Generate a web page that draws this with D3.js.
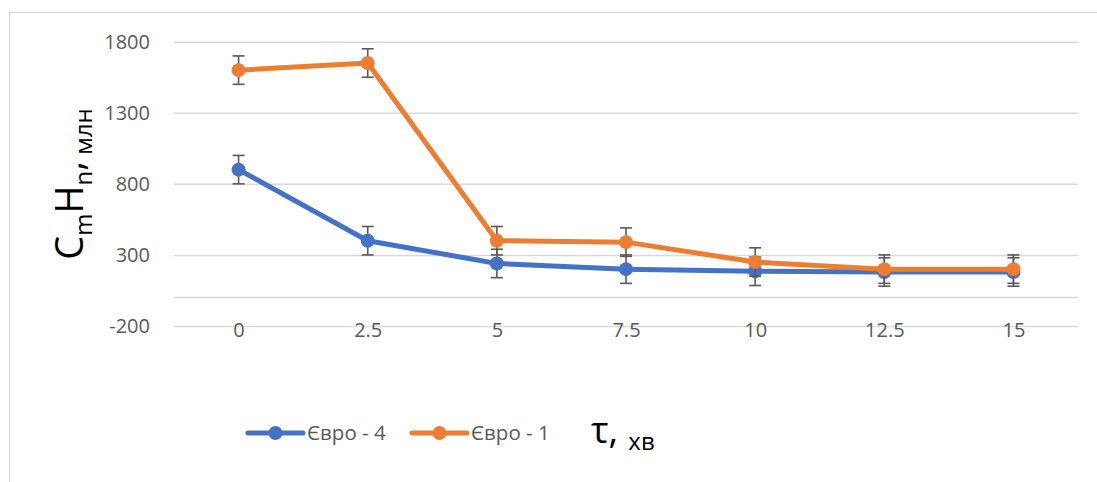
<!DOCTYPE html>
<html>
<head>
<meta charset="utf-8">
<script src="https://cdn.jsdelivr.net/npm/d3@7"></script>
<style>
  html, body { margin: 0; padding: 0; background: #fff; }
  svg { display: block; }
  text { font-family: "Open Sans", "Liberation Sans", sans-serif; }
</style>
</head>
<body>
<svg id="chart" width="1097" height="482"></svg>
<script>
// Time points, min
const times = ["0", "2.5", "5", "7.5", "10", "12.5", "15"];
// Hydrocarbon concentration (CmHn), million⁻¹
const euro4 = [900, 400, 240, 200, 185, 180, 180];
const euro1 = [1600, 1650, 400, 390, 250, 200, 200];
// Error bar half-widths
const euro4Err = [100, 100, 100, 100, 100, 100, 100];
const euro1Err = [100, 100, 100, 100, 100, 100, 100];
// Value axis ticks
const yTicks = [-200, 300, 800, 1300, 1800];

const seriesList = [
  { name: "Євро - 4", values: euro4, errors: euro4Err, color: "#4472C4" },
  { name: "Євро - 1", values: euro1, errors: euro1Err, color: "#ED7D31" }
];

const svg = d3.select("#chart");
const W = 1097, H = 482;

// Chart frame
svg.append("rect")
  .attr("x", 9.5).attr("y", 12.5)
  .attr("width", W + 10).attr("height", H + 10)
  .attr("fill", "none").attr("stroke", "#d9d9d9").attr("stroke-width", 1.2);

const plot = { left: 174, right: 1078, top: 41.7, bottom: 326 };

const x = d3.scalePoint()
  .domain(times)
  .range([plot.left, plot.right])
  .padding(0.5);

const y = d3.scaleLinear()
  .domain([-200, 1800])
  .range([plot.bottom, plot.top]);

// Horizontal gridlines
svg.append("g")
  .attr("transform", `translate(${plot.left},0)`)
  .call(d3.axisLeft(y).tickValues(yTicks).tickSize(-(plot.right - plot.left)).tickFormat(""))
  .call(g => g.select(".domain").remove())
  .call(g => g.selectAll("line").attr("stroke", "#d9d9d9").attr("stroke-width", 1.5));

// Category axis line sits at zero
svg.append("line")
  .attr("x1", plot.left).attr("x2", plot.right)
  .attr("y1", y(0)).attr("y2", y(0))
  .attr("stroke", "#d9d9d9").attr("stroke-width", 1.5);

// Value tick labels
svg.append("g")
  .attr("transform", `translate(${plot.left},0)`)
  .call(d3.axisLeft(y).tickValues(yTicks).tickSize(0).tickPadding(24)
    .tickFormat(d => String(d)))
  .call(g => g.select(".domain").remove())
  .call(g => g.selectAll("text")
    .attr("fill", "#595959")
    .style("font-size", "20px"));

// Category tick labels, placed low
svg.append("g")
  .attr("transform", `translate(0,${plot.bottom})`)
  .call(d3.axisBottom(x).tickSize(0).tickPadding(0))
  .call(g => g.select(".domain").remove())
  .call(g => g.selectAll("text")
    .attr("fill", "#595959")
    .attr("y", 4)
    .attr("dy", "0.35em")
    .style("font-size", "20px"));

// Series lines, error bars and markers
const line = d3.line()
  .x((d, i) => x(times[i]))
  .y(d => y(d));

seriesList.forEach(s => {
  const g = svg.append("g");
  g.append("path")
    .datum(s.values)
    .attr("d", line)
    .attr("fill", "none")
    .attr("stroke", s.color)
    .attr("stroke-width", 5)
    .attr("stroke-linejoin", "round")
    .attr("stroke-linecap", "round");

  const eb = g.selectAll(".err")
    .data(s.values.map((v, i) => ({ t: times[i], v, e: s.errors[i] })))
    .enter().append("g");
  eb.append("line")
    .attr("x1", d => x(d.t)).attr("x2", d => x(d.t))
    .attr("y1", d => y(d.v + d.e)).attr("y2", d => y(d.v - d.e))
    .attr("stroke", "#595959").attr("stroke-width", 1.6);
  eb.append("line")
    .attr("x1", d => x(d.t) - 6).attr("x2", d => x(d.t) + 6)
    .attr("y1", d => y(d.v + d.e)).attr("y2", d => y(d.v + d.e))
    .attr("stroke", "#595959").attr("stroke-width", 1.6);
  eb.append("line")
    .attr("x1", d => x(d.t) - 6).attr("x2", d => x(d.t) + 6)
    .attr("y1", d => y(d.v - d.e)).attr("y2", d => y(d.v - d.e))
    .attr("stroke", "#595959").attr("stroke-width", 1.6);

  g.selectAll(".pt")
    .data(s.values)
    .enter().append("circle")
    .attr("cx", (d, i) => x(times[i]))
    .attr("cy", d => y(d))
    .attr("r", 7)
    .attr("fill", s.color);
});

// Value axis title: CmHn, млн
const yTitle = svg.append("text")
  .attr("transform", `translate(83,184) rotate(-90)`)
  .attr("text-anchor", "middle")
  .attr("fill", "#000");
yTitle.append("tspan").style("font-size", "38px").text("C");
yTitle.append("tspan").style("font-size", "24px").attr("dy", 9).text("m");
yTitle.append("tspan").style("font-size", "38px").attr("dy", -9).text("H");
yTitle.append("tspan").style("font-size", "24px").attr("dy", 9).text("n");
yTitle.append("tspan").style("font-size", "38px").attr("dy", -9).text(",");
yTitle.append("tspan").style("font-size", "24px").attr("dy", 9).text(" млн");

// Legend
const legendItems = [
  { s: seriesList[0], x0: 248 },
  { s: seriesList[1], x0: 412 }
];
legendItems.forEach(({ s, x0 }) => {
  const ly = 433;
  svg.append("line")
    .attr("x1", x0).attr("x2", x0 + 55)
    .attr("y1", ly).attr("y2", ly)
    .attr("stroke", s.color).attr("stroke-width", 5)
    .attr("stroke-linecap", "round");
  svg.append("circle")
    .attr("cx", x0 + 27.5).attr("cy", ly).attr("r", 7)
    .attr("fill", s.color);
  svg.append("text")
    .attr("x", x0 + 59).attr("y", ly)
    .attr("dy", "0.35em")
    .attr("fill", "#595959")
    .style("font-size", "20.5px")
    .text(s.name);
});

// Category axis title: τ, хв
const xTitle = svg.append("text")
  .attr("x", 591).attr("y", 443)
  .attr("fill", "#000");
xTitle.append("tspan").style("font-size", "37px").text("τ,");
xTitle.append("tspan").style("font-size", "24px").attr("dx", 4).attr("dy", 7).text(" хв");
</script>
</body>
</html>
